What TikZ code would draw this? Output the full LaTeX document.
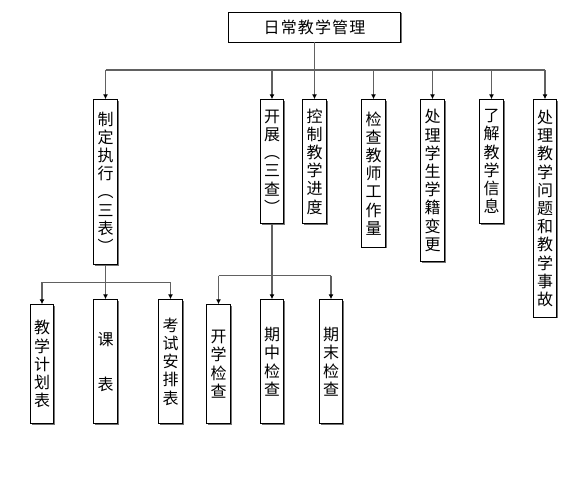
\documentclass[tikz,border=0pt]{standalone}
\usepackage{fontspec}
\setmainfont{Noto Sans CJK SC}
\newfontfamily\cjkwide[LetterSpace=7]{Noto Sans CJK SC}
\usetikzlibrary{shadows,arrows.meta}
\begin{document}
\begin{tikzpicture}[x=1pt,y=-1pt,
  box/.style={draw=black, line width=0.8pt, fill=white, inner sep=0pt,
    minimum width=23.5pt, align=center, font=\fontsize{16}{18.2}\selectfont,
    general shadow={fill=black!55, shadow xshift=1.3pt, shadow yshift=-1.3pt}},
  link/.style={draw=black!62, line width=1.1pt},
  arr/.style={link, -{Latex[length=5pt,width=5pt,color=black]}}]
\useasboundingbox (0,0) rectangle (586,486);
% top
\node[box, minimum width=172pt, minimum height=30pt,
      font=\cjkwide\fontsize{16}{18}\selectfont] (top) at (314.5,27) {日常教学管理};
% level 1
\node[box, anchor=north, minimum height=164.7pt] (A) at (105.5,99.3) {制\\定\\执\\行\\︵\\三\\表\\︶};
\node[box, anchor=north, minimum height=123.7pt] (B) at (272,99.3) {开\\展\\︵\\三\\查\\︶};
\node[box, anchor=north, minimum height=123.7pt] (C) at (314.5,99.3) {控\\制\\教\\学\\进\\度};
\node[box, anchor=north, minimum height=147.4pt] (D) at (373.5,99.3) {检\\查\\教\\师\\工\\作\\量};
\node[box, anchor=north, minimum height=161.7pt] (E) at (432.5,99.3) {处\\理\\学\\生\\学\\籍\\变\\更};
\node[box, anchor=north, minimum height=123.7pt] (F) at (491.5,99.3) {了\\解\\教\\学\\信\\息};
\node[box, anchor=north, minimum height=217.4pt] (G) at (545,99.3) {处\\理\\教\\学\\问\\题\\和\\教\\学\\事\\故};
% level 2
\node[box, anchor=north, minimum height=119pt] (L1) at (42,304.3) {教\\学\\计\\划\\表};
\node[box, anchor=north, minimum height=124pt] (L2) at (105.5,299.3) {课\\[26.8pt]表};
\node[box, anchor=north, minimum height=124pt] (L3) at (170.5,299.3) {考\\试\\安\\排\\表};
\node[box, anchor=north, minimum height=119pt] (R1) at (218.5,304.3) {开\\学\\检\\查};
\node[box, anchor=north, minimum height=124pt] (R2) at (272,299.3) {期\\中\\检\\查};
\node[box, anchor=north, minimum height=124pt] (R3) at (331,299.3) {期\\末\\检\\查};
% connectors level 1
\coordinate (bus) at (0,70);
\draw[link] (top.south) -- (top.south |- bus);
\draw[link] (A.north |- bus) -- (G.north |- bus);
\foreach \n in {A,B,C,D,E,F,G} \draw[arr] (\n.north |- bus) -- (\n.north);
% connectors level 2 left
\coordinate (lbus) at (0,282.3);
\draw[arr] (A.south) -- (L2.north);
\draw[link] (L1.north |- lbus) -- (L3.north |- lbus);
\foreach \n in {L1,L3} \draw[arr] (\n.north |- lbus) -- (\n.north);
% connectors level 2 right
\coordinate (rbus) at (0,275.7);
\draw[arr] (B.south) -- (R2.north);
\draw[link] (R1.north |- rbus) -- (R3.north |- rbus);
\foreach \n in {R1,R3} \draw[arr] (\n.north |- rbus) -- (\n.north);
\end{tikzpicture}
\end{document}
